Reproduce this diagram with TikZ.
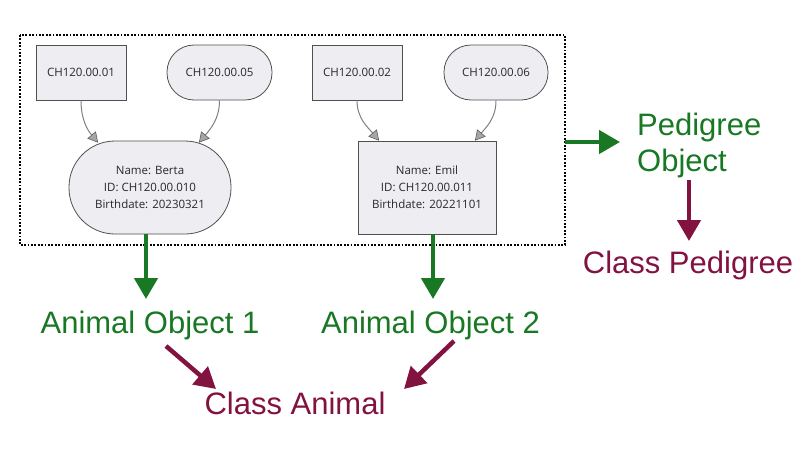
\documentclass[tikz,border=0pt]{standalone}
\usepackage{fontspec}
\setmainfont{Liberation Sans}
\newfontfamily\nodefont{Open Sans}
\usetikzlibrary{arrows.meta,positioning,calc}
\definecolor{grn}{RGB}{24,120,36}
\definecolor{prp}{RGB}{130,18,64}
\definecolor{nfill}{RGB}{238,238,242}
\definecolor{nline}{RGB}{80,80,80}
\definecolor{ntext}{RGB}{40,40,40}
\begin{document}
\begin{tikzpicture}[x=1pt,y=-1pt,
  base/.style={draw=nline,fill=nfill,line width=0.8pt,font=\nodefont\fontsize{11.5}{17}\selectfont,text=ntext,inner sep=0pt,align=center},
  rectnode/.style={base,rectangle,minimum width=90pt,minimum height=55pt},
  pillnode/.style={base,rectangle,rounded corners=27pt,minimum width=105pt,minimum height=55pt},
  garrow/.style={draw=gray,line width=1pt,-{Triangle[length=10pt,width=11pt,fill=gray!70,color=nline,line width=0.5pt]}},
  bigg/.style={draw=grn,line width=4.5pt,-{Triangle[length=21pt,width=23pt]}},
  bigp/.style={draw=prp,line width=4.5pt,-{Triangle[length=21pt,width=23pt]}},
  gtext/.style={text=grn,font=\fontsize{31}{36}\selectfont,inner sep=0pt,align=left},
  ptext/.style={text=prp,font=\fontsize{31}{36}\selectfont,inner sep=0pt,align=left},
]
\useasboundingbox (0,0) rectangle (800,450);
% dotted frame
\draw[line width=1.8pt,dash pattern=on 1.8pt off 1.6pt] (20,35) rectangle (565,245);
\coordinate (frameR) at (565,142);
\coordinate (poL) at (620,142);
\coordinate (poB) at (689,180);
\coordinate (cpT) at (689,241);
\coordinate (g1s) at (146,234);
\coordinate (g1e) at (146,299);
\coordinate (g2s) at (433,234);
\coordinate (g2e) at (433,299);
\coordinate (p1s) at (166,346);
\coordinate (p1e) at (216,389);
\coordinate (p2s) at (454,341);
\coordinate (p2e) at (404,389);

\node[rectnode] (a1) at (81,72.5) {CH120.00.01};
\node[pillnode] (a5) at (219.5,72.5) {CH120.00.05};
\node[rectnode] (a2) at (357,72.5) {CH120.00.02};
\node[pillnode,minimum width=104pt] (a6) at (496,72.5) {CH120.00.06};
\node[base,rectangle,rounded corners=46pt,minimum width=162pt,minimum height=93pt] (berta) at (150,187.5) {Name: Berta\\ID: CH120.00.010\\Birthdate: 20230321};
\node[rectnode,minimum width=138pt,minimum height=93pt] (emil) at (427,187.5) {Name: Emil\\ID: CH120.00.011\\Birthdate: 20221101};

\draw[garrow] (a1.south) to[out=-90,in=130] ([xshift=-52pt,yshift=-2pt]berta.north);
\draw[garrow] (a5.south) to[out=-90,in=50] ([xshift=49pt,yshift=-2pt]berta.north);
\draw[garrow] (a2.south) to[out=-90,in=130] ([xshift=-48pt]emil.north);
\draw[garrow] (a6.south) to[out=-90,in=50] ([xshift=48pt]emil.north);

\node[gtext] (ao1) at (150,325) {Animal Object 1};
\node[gtext] (ao2) at (430.5,325) {Animal Object 2};
\node[ptext] (ca) at (295,403) {Class Animal};
\node[gtext,anchor=north west] (po) at (637,113) {Pedigree\\Object};
\node[ptext] (cp) at (688,265) {Class Pedigree};

\draw[bigg] (g1s) -- (g1e);
\draw[bigg] (g2s) -- (g2e);
\draw[bigg] (frameR) -- (poL);
\draw[bigp] (poB) -- (cpT);
\draw[bigp] (p1s) -- (p1e);
\draw[bigp] (p2s) -- (p2e);
\end{tikzpicture}
\end{document}
